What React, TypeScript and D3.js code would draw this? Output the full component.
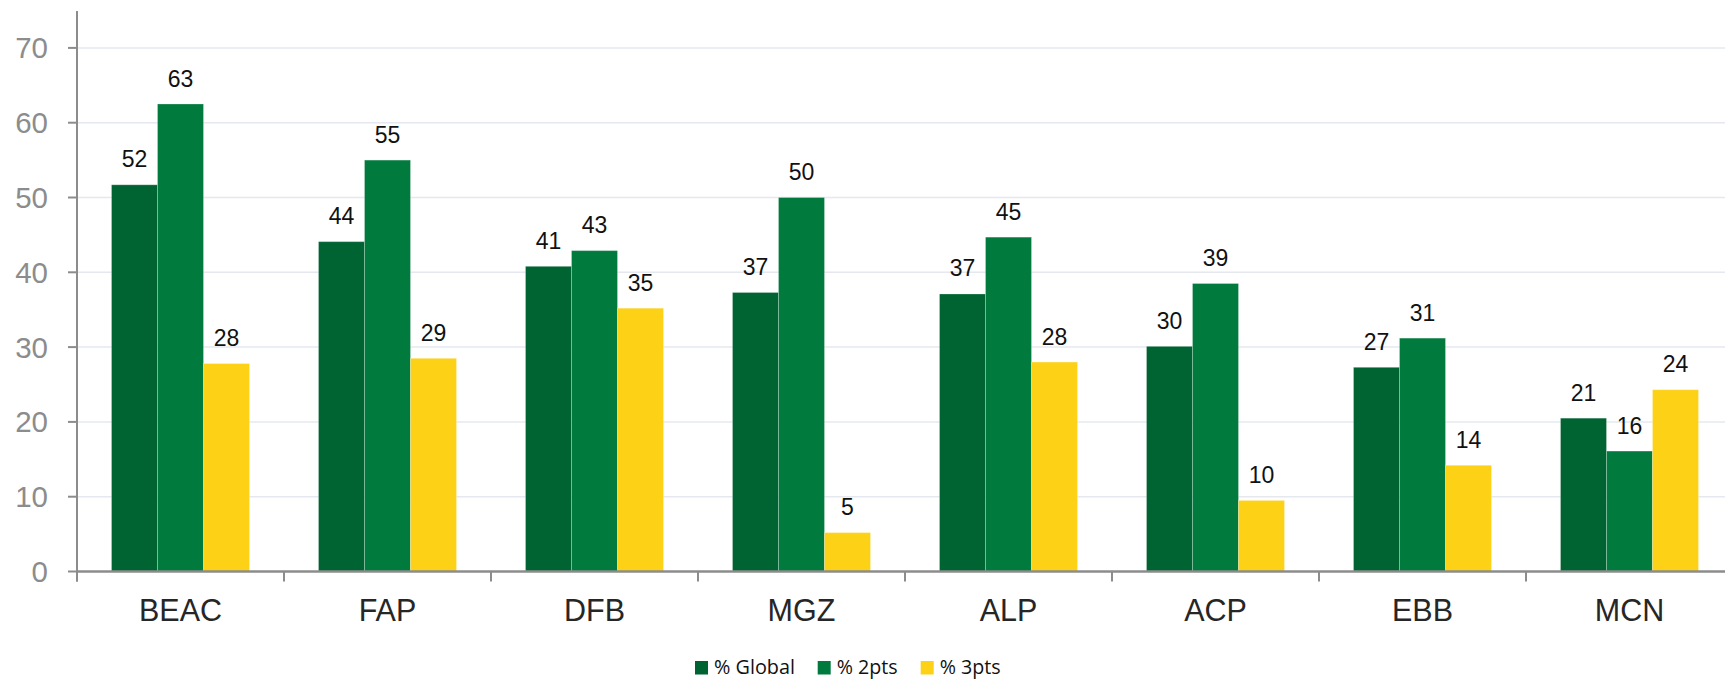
import React from "react";
import * as d3 from "d3";

const categories = ["BEAC", "FAP", "DFB", "MGZ", "ALP", "ACP", "EBB", "MCN"];
const seriesNames = ["% Global", "% 2pts", "% 3pts"];
const globalValues = [51.7, 44.1, 40.8, 37.3, 37.1, 30.1, 27.3, 20.5];
const twoPtsValues = [62.5, 55.0, 42.9, 50.0, 44.7, 38.5, 31.2, 16.1];
const threePtsValues = [27.8, 28.5, 35.2, 5.2, 28.0, 9.5, 14.2, 24.3];
const dataLabels = [
  [52, 44, 41, 37, 37, 30, 27, 21],
  [63, 55, 43, 50, 45, 39, 31, 16],
  [28, 29, 35, 5, 28, 10, 14, 24],
];
const yTicks = [0, 10, 20, 30, 40, 50, 60, 70];
const colors = ["#006432", "#007A3D", "#FCD116"];

const W = 1725;
const H = 679;

export default function App() {
  const series = [globalValues, twoPtsValues, threePtsValues];
  const x = d3.scaleBand<string>().domain(categories).range([77, 1733]).padding(0);
  const bw = x.bandwidth();
  const inner = d3
    .scaleBand<string>()
    .domain(seriesNames)
    .range([bw / 6, (bw * 5) / 6])
    .padding(0);
  const y = d3.scaleLinear().domain([0, 70]).range([571.5, 47.9]);
  const boundaries = d3.range(categories.length + 1).map((i) => 77 + i * bw);

  const labelFont = "'Liberation Sans', Arial, sans-serif";

  return (
    <svg
      width={W}
      height={H}
      style={{ position: "absolute", left: 0, top: 0, background: "#fff" }}
    >
      {yTicks
        .filter((t) => t > 0)
        .map((t) => (
          <line
            key={"g" + t}
            x1={78}
            x2={W}
            y1={y(t)}
            y2={y(t)}
            stroke="#e5e8ef"
            strokeWidth={1.5}
          />
        ))}
      {series.map((vals, si) =>
        vals.map((v, ci) => {
          const bx = (x(categories[ci]) as number) + (inner(seriesNames[si]) as number);
          return (
            <rect
              key={`b${si}-${ci}`}
              x={bx}
              y={y(v)}
              width={inner.bandwidth()}
              height={y(0) - y(v)}
              fill={colors[si]}
              stroke="rgba(255,255,255,0.25)"
              strokeWidth={1}
            />
          );
        })
      )}
      {series.map((vals, si) =>
        vals.map((v, ci) => {
          const cx =
            (x(categories[ci]) as number) +
            (inner(seriesNames[si]) as number) +
            inner.bandwidth() / 2;
          return (
            <text
              key={`l${si}-${ci}`}
              x={cx}
              y={y(v) - 17.5}
              textAnchor="middle"
              fontFamily={labelFont}
              fontSize={23}
              fill="#111"
            >
              {dataLabels[si][ci]}
            </text>
          );
        })
      )}
      <line x1={77} x2={77} y1={11} y2={581.5} stroke="#8c8c8c" strokeWidth={2} />
      {yTicks.map((t) => (
        <g key={"yt" + t}>
          <line x1={68} x2={77} y1={y(t)} y2={y(t)} stroke="#8c8c8c" strokeWidth={2} />
          <text
            x={48}
            y={y(t) + 10.5}
            textAnchor="end"
            fontFamily={labelFont}
            fontSize={29.5}
            fill="#8c8c8c"
          >
            {t}
          </text>
        </g>
      ))}
      <line x1={76} x2={W} y1={y(0)} y2={y(0)} stroke="#8c8c8c" strokeWidth={2.5} />
      {boundaries.map((b, i) => (
        <line
          key={"xt" + i}
          x1={b}
          x2={b}
          y1={y(0)}
          y2={581.5}
          stroke="#8c8c8c"
          strokeWidth={2}
        />
      ))}
      {categories.map((c) => (
        <text
          key={"xl" + c}
          x={(x(c) as number) + bw / 2}
          y={620.7}
          textAnchor="middle"
          fontFamily={labelFont}
          fontSize={30.5}
          fill="#262626"
        >
          {c}
        </text>
      ))}
      {seriesNames.map((s, i) => {
        const sx = [695, 817.7, 920.7][i];
        return (
          <g key={"lg" + i}>
            <rect x={sx} y={661} width={13} height={13.5} fill={colors[i]} />
            <text
              x={sx + 19}
              y={674}
              fontFamily="'Open Sans', 'Noto Sans', sans-serif"
              fontSize={20.5}
              fill="#111"
              textLength={[81, 61, 61][i]}
              lengthAdjust="spacingAndGlyphs"
            >
              {s}
            </text>
          </g>
        );
      })}
    </svg>
  );
}
